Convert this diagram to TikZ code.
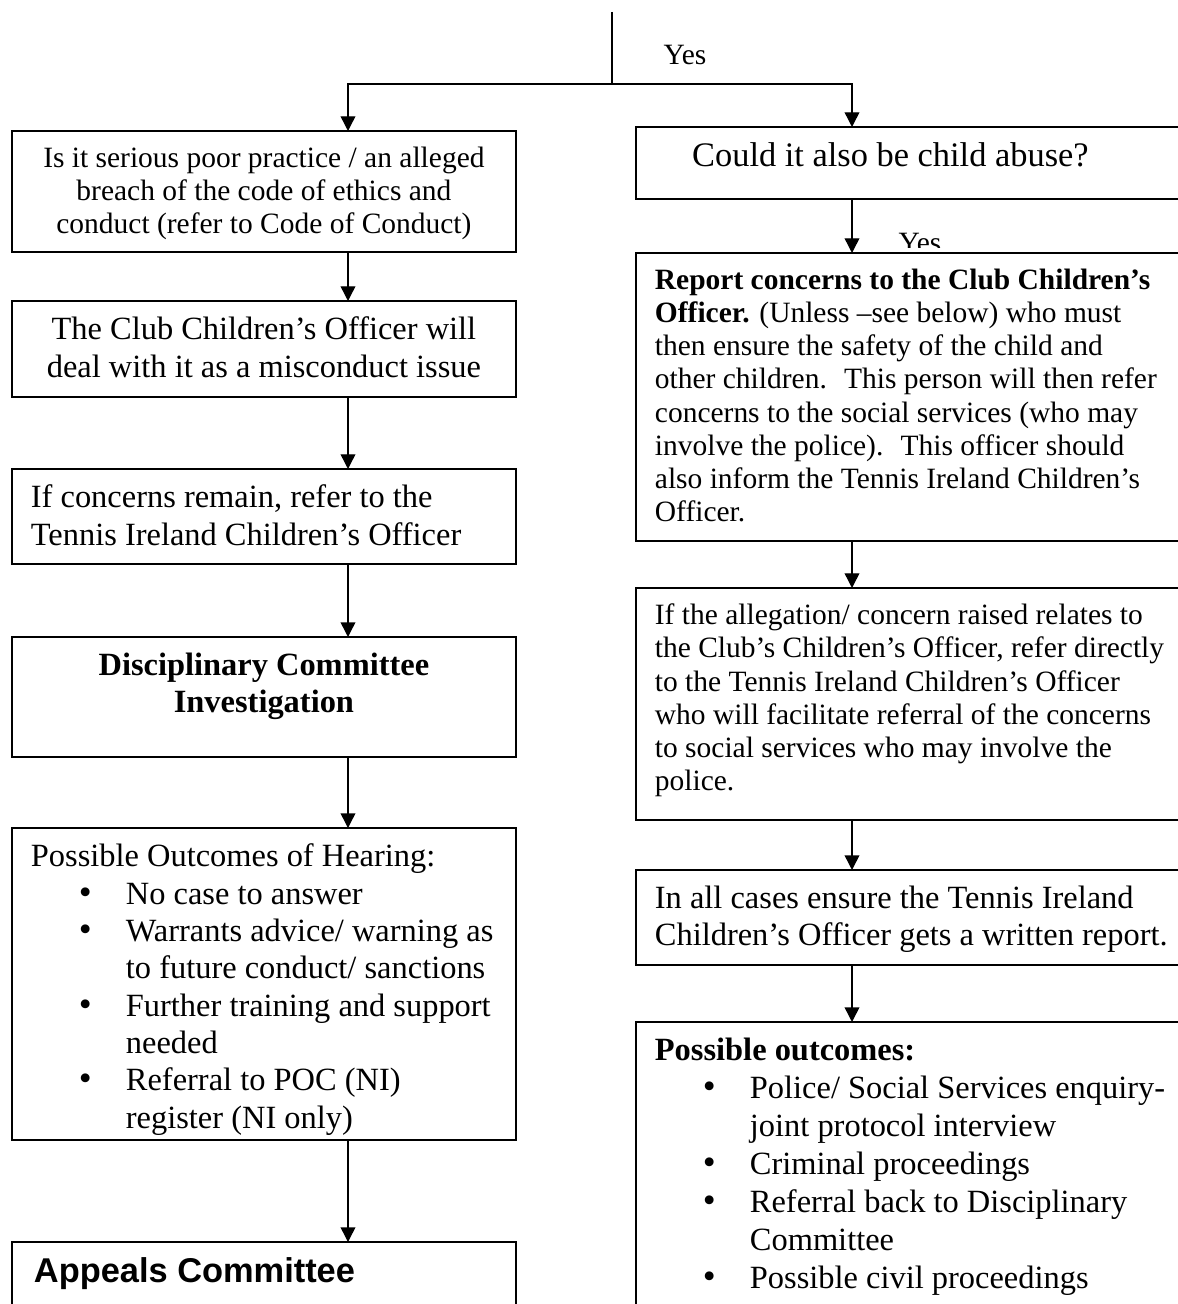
\documentclass[tikz,border=0pt]{standalone}
\usepackage{fontspec}
\setmainfont{Liberation Serif}
\setsansfont{Liberation Sans}
\usetikzlibrary{arrows.meta,positioning}

% one pixel of the page, so that sizes can be given in pixels
\newlength{\px}
\setlength{\px}{0.407pt}
\newcommand{\boxtext}[3]{\parbox[c][#2\px][t]{#1\px}{#3}}
\newcommand{\bitem}{\hspace*{48\px}\makebox[47\px][l]{\fontsize{15}{12}\selectfont\textbullet}}
\newcommand{\bcont}{\hspace*{95\px}}

\begin{document}
\begin{tikzpicture}[
    x=0.407pt, y=-0.407pt,
    box/.style={draw, line width=0.9pt, anchor=north west, inner xsep=7.7pt, inner ysep=6.5pt, outer sep=0pt},
    normtxt/.style={font=\fontsize{12}{13.5}\selectfont},
    bigtxt/.style={font=\fontsize{13.2}{15.2}\selectfont},
    line/.style={line width=0.6pt},
    arrow/.style={-{Triangle[length=6pt,width=6pt]}, line width=0.6pt}
]
\path[fill=white, use as bounding box] (0,0) rectangle (1178,1304);

\coordinate (top) at (612,12);
\coordinate (split) at (612,84);
\coordinate (lx) at (348,0);
\coordinate (rx) at (852,0);

% left column
\node[box, normtxt] (b1) at (12,131) {\boxtext{466}{89}{\centering
    Is it serious poor practice / an alleged\\
    breach of the code of ethics and\\
    conduct (refer to Code of Conduct)}};
\node[box, bigtxt] (b2) at (12,301) {\boxtext{466}{64}{\centering
    The Club Children’s Officer will\\
    deal with it as a misconduct issue}};
\node[box, bigtxt] (b3) at (12,469) {\boxtext{466}{63}{\raggedright
    If concerns remain, refer to the\\
    Tennis Ireland Children’s Officer}};
\node[box, bigtxt] (b4) at (12,637) {\boxtext{466}{88}{\centering\bfseries
    Disciplinary Committee\\
    Investigation}};
\node[box, bigtxt] (b5) at (12,828) {\boxtext{466}{280}{\raggedright
    Possible Outcomes of Hearing:\\
    \bitem No case to answer\\
    \bitem Warrants advice/ warning as\\
    \bcont to future conduct/ sanctions\\
    \bitem Further training and support\\
    \bcont needed\\
    \bitem Referral to POC (NI)\\
    \bcont register (NI only)}};
\node[box] (b6) at (12,1242) {\boxtext{466}{100}{\raggedright
    \hspace*{3\px}\fontsize{14}{16}\sffamily\bfseries Appeals Committee}};

% right column
\node[box, font=\fontsize{14}{16}\selectfont] (r1) at (636,127) {\boxtext{521}{40}{\centering
    Could it also be child abuse?\hspace*{50\px}}};
\node[box, normtxt] (r2) at (636,253) {\boxtext{521}{256}{\raggedright
    \textbf{Report concerns to the Club Children’s}\\
    \textbf{Officer.} (Unless –see below) who must\\
    then ensure the safety of the child and\\
    other children.~ This person will then refer\\
    concerns to the social services (who may\\
    involve the police).~ This officer should\\
    also inform the Tennis Ireland Children’s\\
    Officer.}};
\node[box, normtxt] (r3) at (636,588) {\boxtext{521}{200}{\raggedright
    If the allegation/ concern raised relates to\\
    the Club’s Children’s Officer, refer directly\\
    to the Tennis Ireland Children’s Officer\\
    who will facilitate referral of the concerns\\
    to social services who may involve the\\
    police.}};
\node[box, bigtxt] (r4) at (636,870) {\boxtext{521}{63}{\raggedright
    In all cases ensure the Tennis Ireland\\
    Children’s Officer gets a written report.}};
\node[box, font=\fontsize{13.2}{15.5}\selectfont] (r5) at (636,1022) {\boxtext{521}{300}{\raggedright
    \textbf{Possible outcomes:}\\
    \bitem Police/ Social Services enquiry-\\
    \bcont joint protocol interview\\
    \bitem Criminal proceedings\\
    \bitem Referral back to Disciplinary\\
    \bcont Committee\\
    \bitem Possible civil proceedings}};

% labels
\node[normtxt, anchor=base west, inner sep=0pt] (yes1) at (663,65) {Yes};
\begin{scope}
  \clip (880,200) rectangle (1000,248);
  \node[normtxt, anchor=base west, inner sep=0pt] (yes2) at (898,253) {Yes};
\end{scope}

% connectors
\draw[line] (top) -- (split);
\draw[arrow] (split) -| (b1.north -| lx);
\draw[arrow] (split) -| (r1.north -| rx);

\draw[arrow] (b1.south -| lx) -- (b2.north -| lx);
\draw[arrow] (b2.south -| lx) -- (b3.north -| lx);
\draw[arrow] (b3.south -| lx) -- (b4.north -| lx);
\draw[arrow] (b4.south -| lx) -- (b5.north -| lx);
\draw[arrow] (b5.south -| lx) -- (b6.north -| lx);

\draw[arrow] (r1.south -| rx) -- (r2.north -| rx);
\draw[arrow] (r2.south -| rx) -- (r3.north -| rx);
\draw[arrow] (r3.south -| rx) -- (r4.north -| rx);
\draw[arrow] (r4.south -| rx) -- (r5.north -| rx);

\end{tikzpicture}
\end{document}
